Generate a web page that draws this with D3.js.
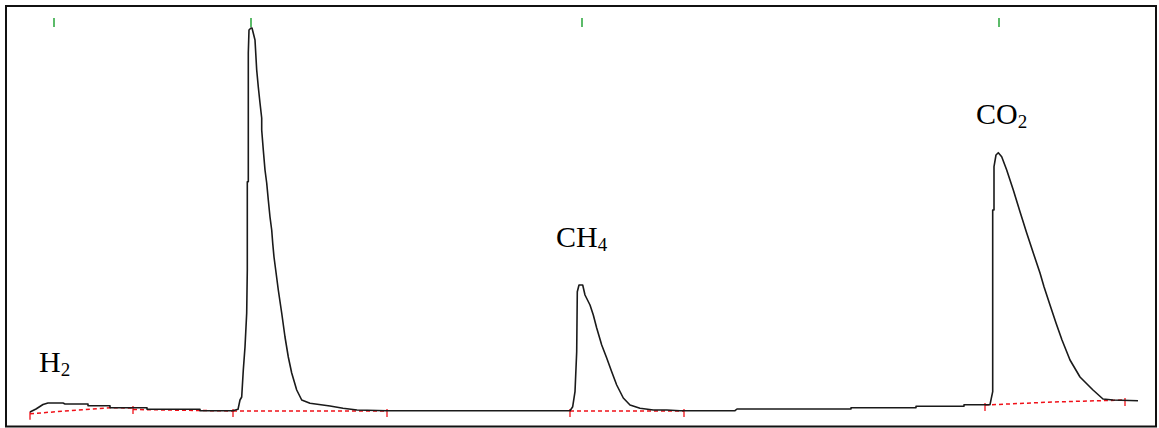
<!DOCTYPE html>
<html>
<head>
<meta charset="utf-8">
<script src="https://cdn.jsdelivr.net/npm/d3@7/dist/d3.min.js"></script>
<style>
  html, body { margin: 0; padding: 0; background: #fff; }
  svg { display: block; }
  .label { font-family: "Liberation Serif", "Times New Roman", serif; fill: #000; }
</style>
</head>
<body>
<div id="chart"></div>
<script>
// chromatogram trace, time in min and detector signal in mV
const timeMin = [
  0, 0.06, 0.13, 0.18, 0.33, 0.35, 0.58, 0.58, 0.80, 0.80, 1.17, 1.17, 1.70, 1.70, 2.03, 2.08,
  2.10, 2.117, 2.133, 2.15, 2.167, 2.173, 2.173, 2.183, 2.183, 2.19, 2.21, 2.22, 2.25, 2.267,
  2.283, 2.30, 2.317, 2.317, 2.333, 2.35, 2.367, 2.383, 2.40, 2.417, 2.427, 2.44, 2.457, 2.483,
  2.517, 2.55, 2.583, 2.617, 2.667, 2.717, 2.80, 3.00, 3.13, 3.27, 3.57,
  5.40, 5.427, 5.45, 5.467, 5.473, 5.49, 5.527, 5.55, 5.60, 5.633, 5.667, 5.717, 5.767, 5.817,
  5.867, 5.933, 6.00, 6.10, 6.233, 6.367, 6.50, 7.05, 7.07, 8.21, 8.21, 8.86, 8.86, 9.34, 9.34,
  9.60, 9.627, 9.627, 9.64, 9.64, 9.66, 9.683, 9.717, 9.767, 9.833, 9.90, 9.967, 10.033, 10.10,
  10.14, 10.20, 10.26, 10.32, 10.40, 10.50, 10.63, 10.73, 10.83, 11.08
];
const signalMv = [
  -1, 2, 6.5, 8, 8, 7, 7, 5.3, 5.3, 3.3, 3.3, 1.7, 1.7, 0.3, 0.3, 1.7,
  11, 14, 41, 64, 98, 141, 229.3, 229.3, 358, 381, 383, 383, 371, 341,
  324, 308, 293, 281, 261, 241, 228, 211, 194, 181, 168, 154, 141, 121,
  98, 74, 54, 38, 21, 11, 7.7, 5, 2.7, 1, 0.3,
  0.3, 4.3, 19.3, 59.3, 119.3, 126, 126, 116, 106, 96, 83, 66, 53, 39.3,
  26, 13, 6, 2.7, 1, 1, 0.3, 0.3, 2, 2, 3.3, 3.3, 4.7, 4.7, 6.3,
  6.3, 19.3, 201, 201, 244.3, 256, 258.3, 254.3, 241, 221, 199.3, 178, 158, 138,
  124.3, 106, 88, 71, 51, 34, 21, 12, 11, 10.3
];

// integration baselines (time, level) per segment
const baseSegments = [
  [[0, -2.7], [0.80, 3.3], [1.03, 3]],
  [[1.03, 1.5], [2.03, 0]],
  [[2.03, 0], [3.57, 0]],
  [[5.40, 0], [6.54, 0]],
  [[9.55, 6], [10.23, 9], [10.95, 11]]
];
const markerTimes = [0, 1.03, 2.03, 3.57, 5.40, 6.54, 9.55, 10.95];
const markerLevels = [-2.7, 3, 0, 0, 0, 0, 6, 11];

// retention time flags on top
const flagTimes = [0.24, 2.21, 5.52, 9.69];

// compound labels
const labelNames = ["H", "CH", "CO"];
const labelSubs = ["2", "4", "2"];
const labelTimes = [0.09, 5.26, 9.46];
const labelLevels = [39, 164, 287];

const W = 1159, H = 428;
const svg = d3.select("#chart").append("svg").attr("width", W).attr("height", H);

const x = d3.scaleLinear().domain([0, 11.1]).range([30, 1140]);
const y = d3.scaleLinear().domain([0, 390]).range([411, 21]);

// frame
svg.append("rect")
  .attr("x", 6).attr("y", 6)
  .attr("width", 1150).attr("height", 420.5)
  .attr("fill", "none").attr("stroke", "#111").attr("stroke-width", 2);

// red dashed baselines
const bl = d3.line().x((d) => x(d[0])).y((d) => y(d[1]));
svg.selectAll(".base")
  .data(baseSegments)
  .join("path")
  .attr("class", "base")
  .attr("d", bl)
  .attr("fill", "none")
  .attr("stroke", "#f01018")
  .attr("stroke-width", 1.5)
  .attr("stroke-dasharray", "4,3");

// peak start/end markers
svg.selectAll(".mark")
  .data(markerTimes)
  .join("line")
  .attr("class", "mark")
  .attr("x1", (d) => x(d)).attr("x2", (d) => x(d))
  .attr("y1", (d, i) => y(markerLevels[i]) - 2)
  .attr("y2", (d, i) => y(markerLevels[i]) + 6)
  .attr("stroke", "#f01018")
  .attr("stroke-width", 1.3);

// trace
const pts = timeMin.map((t, i) => [t, signalMv[i]]);
svg.append("path")
  .datum(pts)
  .attr("d", d3.line().x((d) => x(d[0])).y((d) => y(d[1])))
  .attr("fill", "none")
  .attr("stroke", "#1a1a1a")
  .attr("stroke-width", 1.6)
  .attr("stroke-linejoin", "round");

// green flags
svg.selectAll(".flag")
  .data(flagTimes)
  .join("line")
  .attr("class", "flag")
  .attr("x1", (d) => x(d)).attr("x2", (d) => x(d))
  .attr("y1", 18).attr("y2", 27)
  .attr("stroke", "#33aa44")
  .attr("stroke-width", 1.6);

// labels with subscripts
const lab = svg.selectAll(".label")
  .data(labelNames)
  .join("text")
  .attr("class", "label")
  .attr("x", (d, i) => x(labelTimes[i]))
  .attr("y", (d, i) => y(labelLevels[i]))
  .attr("font-size", 30);
lab.append("tspan").text((d) => d);
lab.append("tspan")
  .attr("font-size", 19)
  .attr("dy", 4)
  .text((d, i) => labelSubs[i]);
</script>
</body>
</html>
